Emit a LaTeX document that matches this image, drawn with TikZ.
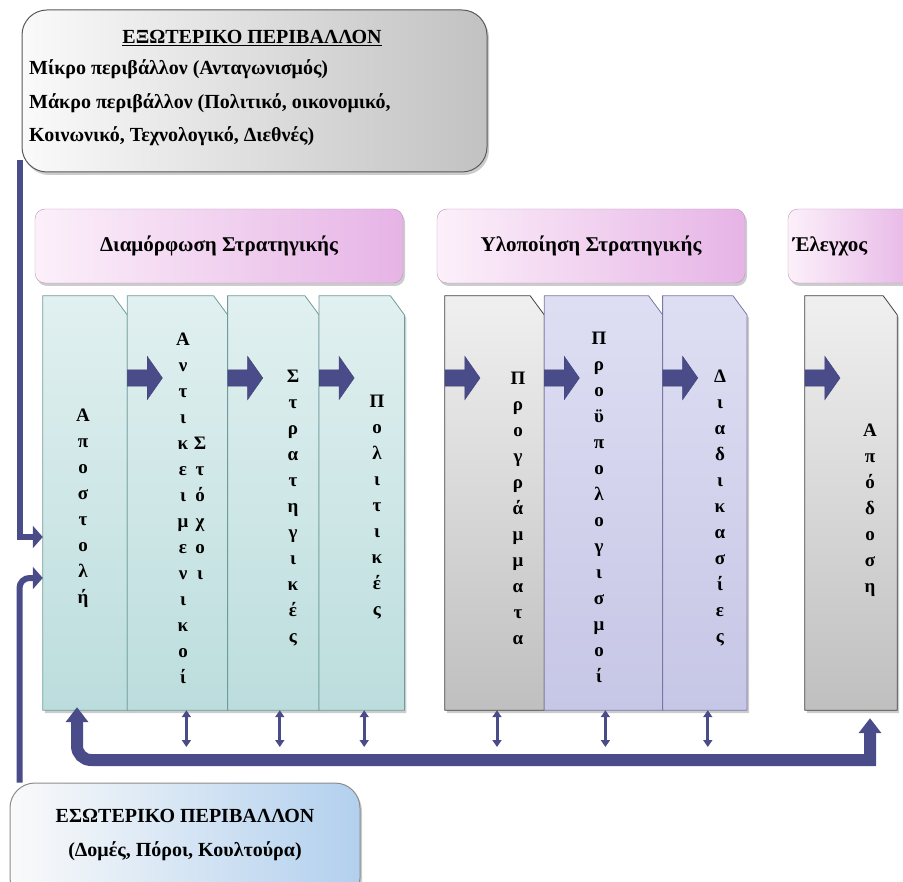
\documentclass[tikz,border=0pt]{standalone}
\usepackage{fontspec}
\setmainfont{Liberation Serif}
\usepackage{tikz}
\usetikzlibrary{positioning,arrows.meta,calc,shapes.arrows,shadows}

\definecolor{arrowc}{RGB}{74,76,138}
\definecolor{pinkL}{RGB}{252,240,250}
\definecolor{pinkR}{RGB}{230,180,230}
\definecolor{pinkD}{RGB}{190,150,190}
\definecolor{tealT}{RGB}{225,240,240}
\definecolor{tealB}{RGB}{188,221,221}
\definecolor{tealD}{RGB}{110,155,155}
\definecolor{lilT}{RGB}{222,222,243}
\definecolor{lilB}{RGB}{198,198,230}
\definecolor{lilD}{RGB}{120,120,165}
\definecolor{blueR}{RGB}{178,208,238}

\begin{document}
\begin{tikzpicture}[x=1pt,y=-1pt,
  shad/.style={drop shadow={opacity=.4,shadow xshift=2pt,shadow yshift=-3pt}},
  envbox/.style={draw=black!65,line width=1pt,rounded corners=25pt,inner sep=0pt,shad},
  hdr/.style={draw=pinkD,rounded corners=10pt,left color=pinkL,right color=pinkR,
              minimum height=74pt,inner sep=0pt,shad,
              font=\fontsize{21}{26}\selectfont\bfseries},
  hdrtxt/.style={inner sep=0pt,font=\fontsize{21}{26}\selectfont\bfseries},
  colpos/.style={rectangle,minimum height=414pt,inner sep=0pt},
  col/.style={line width=.8pt,shad},
  tealc/.style={col,draw=tealD,top color=tealT,bottom color=tealB},
  grayc/.style={col,draw=black!75,top color=black!6,bottom color=black!25},
  lilc/.style={col,draw=lilD,top color=lilT,bottom color=lilB},
  vtxt/.style={align=center,inner sep=0pt,font=\fontsize{19}{26}\selectfont\bfseries},
  bigtxt/.style={align=center,inner sep=0pt,font=\fontsize{20}{33.5}\selectfont\bfseries},
  bigarr/.style={single arrow,fill=arrowc,draw=arrowc!85!black,minimum height=35pt,
                 inner xsep=0pt,inner ysep=8pt,single arrow head extend=13.5pt,
                 single arrow tip angle=110,anchor=tail},
  dblarr/.style={draw=arrowc,line width=3pt,
                 {Triangle[width=9pt,length=7pt]}-{Triangle[width=9pt,length=7pt]}},
  fbarr/.style={draw=arrowc,line width=12pt,
                {Triangle[width=22pt,length=15pt]}-{Triangle[width=22pt,length=15pt]}},
  envline/.style={draw=arrowc,line width=6pt,-{Triangle[width=22pt,length=10pt]}}]
\useasboundingbox (0,0) rectangle (903,882);

\node[envbox,left color=black!2,right color=black!24,minimum width=465pt,minimum height=162pt] (ext) at (254.5,91) {};
\node[bigtxt] (ext-title) at (252,38) {\underline{ΕΞΩΤΕΡΙΚΟ ΠΕΡΙΒΑΛΛΟΝ}};
\node[bigtxt,align=left,anchor=west] (ext-body) at (29,103)
  {Μίκρο περιβάλλον (Ανταγωνισμός)\\Μάκρο περιβάλλον (Πολιτικό, οικονομικό,\\Κοινωνικό, Τεχνολογικό, Διεθνές)};

\node[hdr,minimum width=368pt] (formul) at (219,246) {Διαμόρφωση Στρατηγικής};
\node[hdr,minimum width=308pt] (impl) at (591,246) {Υλοποίηση Στρατηγικής};
\node[hdr,minimum width=132pt] (ctrl) at (854,246) {};
\node[hdrtxt] (ctrl-t) at (830,246) {Έλεγχος};

\node[colpos,minimum width=84pt] (apostoli) at (85,503) {};
\node[colpos,minimum width=100pt,right=0pt of apostoli] (stoxoi) {};
\node[colpos,minimum width=91pt,right=0pt of stoxoi] (strat) {};
\node[colpos,minimum width=85pt,right=0pt of strat] (polit) {};
\node[colpos,minimum width=99pt] (progr) at (494.5,503) {};
\node[colpos,minimum width=118pt,right=0pt of progr] (proyp) {};
\node[colpos,minimum width=84pt,right=0pt of proyp] (diadik) {};
\node[colpos,minimum width=92pt] (apodosi) at (851,503) {};
\foreach \c/\s in {apostoli/tealc,stoxoi/tealc,strat/tealc,polit/tealc,
                   progr/grayc,proyp/lilc,diadik/lilc,apodosi/grayc}
  \draw[\s] (\c.south west) -- (\c.north west) -- ([xshift=-14pt]\c.north east)
    -- ([yshift=-19pt]\c.north east) -- (\c.south east) -- cycle;

\node[vtxt] (apostoli-t) at (83,508) {Α\\π\\ο\\σ\\τ\\ο\\λ\\ή};
\node[vtxt] (antik-t) at (183,508) {Α\\ν\\τ\\ι\\κ\\ε\\ι\\μ\\ε\\ν\\ι\\κ\\ο\\ί};
\node[vtxt] (stoxoi-t) at (200,508) {Σ\\τ\\ό\\χ\\ο\\ι};
\node[vtxt] (strat-t) at (293,508) {Σ\\τ\\ρ\\α\\τ\\η\\γ\\ι\\κ\\έ\\ς};
\node[vtxt] (polit-t) at (377,507) {Π\\ο\\λ\\ι\\τ\\ι\\κ\\έ\\ς};
\node[vtxt] (progr-t) at (518,508) {Π\\ρ\\ο\\γ\\ρ\\ά\\μ\\μ\\α\\τ\\α};
\node[vtxt] (proyp-t) at (599,507) {Π\\ρ\\ο\\ϋ\\π\\ο\\λ\\ο\\γ\\ι\\σ\\μ\\ο\\ί};
\node[vtxt] (diadik-t) at (720,508) {Δ\\ι\\α\\δ\\ι\\κ\\α\\σ\\ί\\ε\\ς};
\node[vtxt] (apodosi-t) at (870,510) {Α\\π\\ό\\δ\\ο\\σ\\η};

\foreach \c in {stoxoi,strat,polit,progr,proyp,diadik,apodosi}
  \node[bigarr] (arr-\c) at ([yshift=125pt]\c.west) {};

\node[envbox,left color=black!2,right color=blueR,draw=black!45,minimum width=350pt,minimum height=120pt] (int) at (185,843) {};
\node[bigtxt] (int-t) at (185,835) {ΕΣΩΤΕΡΙΚΟ ΠΕΡΙΒΑΛΛΟΝ\\(Δομές, Πόροι, Κουλτούρα)};

\draw[envline] ([xshift=-2pt,yshift=12pt]ext.south west) |- ([yshift=-34pt]apostoli.west);
\draw[envline,rounded corners=10pt] ([xshift=10pt]int.north west) |- ([yshift=-75pt]apostoli.west);

\coordinate (fbtop) at (0,747);
\coordinate (fbline) at (0,760);
\foreach \c/\dx in {stoxoi/9,strat/6.5,polit/2.5,progr/2.5,proyp/2,diadik/3}{
  \coordinate (t-\c) at ([xshift=\dx pt]\c.south);
  \draw[dblarr] (t-\c) -- (t-\c |- fbtop);
}
\coordinate (fbL) at ([xshift=-8pt,yshift=3pt]apostoli.south);
\coordinate (fbR) at ([xshift=19pt,yshift=-8pt]apodosi.south);
\coordinate (fbC) at (fbL |- fbline);
\draw[fbarr] (fbL) -- ([yshift=14pt]fbC) arc[start angle=180,end angle=270,radius=14pt]
  -- (fbR |- fbline) -- (fbR);
\end{tikzpicture}
\end{document}
